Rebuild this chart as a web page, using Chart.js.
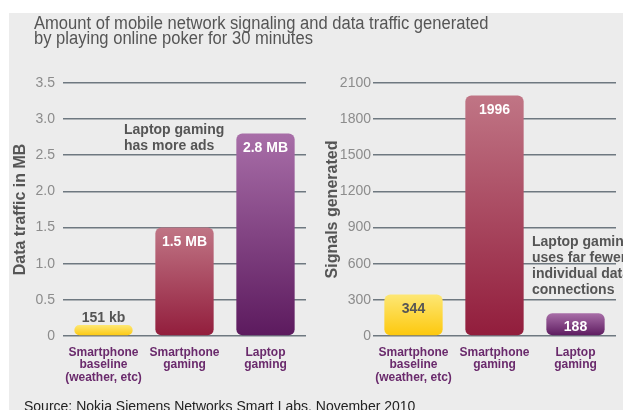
<!DOCTYPE html>
<html>
<head>
<meta charset="utf-8">
<script src="https://cdn.jsdelivr.net/npm/chart.js@4/dist/chart.umd.min.js"></script>
<style>
  body { margin: 0; background: #fff; font-family: 'Liberation Sans', Arial, sans-serif; }
  #wrap { position: relative; width: 623px; height: 410px; overflow: hidden; }
  #panel { position: absolute; left: 9px; top: 13px; width: 614px; height: 397px; background: #ececec; }
  canvas { position: absolute; left: 0; top: 0; }
  .title { position: absolute; left: 34px; top: 16px; font-size: 18px; line-height: 15px; color: #555; white-space: nowrap; transform: scaleX(0.92); transform-origin: left top; }
  .note { position: absolute; font-size: 14px; font-weight: bold; line-height: 16px; color: #555; white-space: nowrap; }
  .source { position: absolute; left: 24px; top: 398px; font-size: 14px; color: #222; white-space: nowrap; }
</style>
</head>
<body>
<div id="wrap">
  <div id="panel"></div>
  <canvas id="left" width="623" height="410"></canvas>
  <canvas id="right" width="623" height="410"></canvas>
  <div class="title">Amount of mobile network signaling and data traffic generated<br>by playing online poker for 30 minutes</div>
  <div class="note" style="left:124px; top:121px;">Laptop gaming<br>has more ads</div>
  <div class="note" style="left:532px; top:233px;">Laptop gaming<br>uses far fewer<br>individual data<br>connections</div>
  <div class="source">Source: Nokia Siemens Networks Smart Labs, November 2010</div>
</div>
<script>
const categories = [
  ['Smartphone', 'baseline', '(weather, etc)'],
  ['Smartphone', 'gaming'],
  ['Laptop', 'gaming']
];
const trafficMB = [0.151, 1.5, 2.8];
const trafficLabels = ['151 kb', '1.5 MB', '2.8 MB'];
const signals = [344, 1996, 188];
const signalLabels = ['344', '1996', '188'];

const FONT = "'Liberation Sans', Arial, sans-serif";
// top / bottom colours for each bar
const barColors = [
  ['#fde774', '#fdc80c'],
  ['#c07585', '#921d3c'],
  ['#a86ea8', '#5c1a5e']
];

function gradientFor(ctx) {
  const chart = ctx.chart;
  const y = chart.scales.y;
  if (!y || !chart.chartArea) return barColors[ctx.dataIndex][1];
  const v = ctx.dataset.data[ctx.dataIndex];
  const top = y.getPixelForValue(v);
  const bottom = y.getPixelForValue(0);
  const g = chart.ctx.createLinearGradient(0, top, 0, bottom);
  g.addColorStop(0, barColors[ctx.dataIndex][0]);
  g.addColorStop(1, barColors[ctx.dataIndex][1]);
  return g;
}

const barText = {
  id: 'barText',
  afterDatasetsDraw(chart, args, opts) {
    const ctx = chart.ctx;
    const meta = chart.getDatasetMeta(0);
    ctx.save();
    ctx.font = 'bold 14px ' + FONT;
    ctx.textAlign = 'center';
    ctx.textBaseline = 'alphabetic';
    meta.data.forEach((bar, i) => {
      const inside = opts.inside[i];
      ctx.fillStyle = opts.colors[i];
      const y = inside ? bar.y + 18 : bar.y - 3;
      ctx.fillText(opts.labels[i], bar.x, y);
    });
    ctx.restore();
  }
};

function makeChart(id, values, labels, cfg) {
  return new Chart(document.getElementById(id), {
    type: 'bar',
    data: {
      labels: categories,
      datasets: [{
        data: values,
        backgroundColor: gradientFor,
        borderRadius: 6,
        borderSkipped: false,
        barPercentage: 0.72,
        categoryPercentage: 1
      }]
    },
    options: {
      responsive: false,
      animation: false,
      devicePixelRatio: 1,
      layout: { padding: cfg.padding },
      plugins: {
        legend: { display: false },
        tooltip: { enabled: false },
        barText: { labels: labels, inside: cfg.inside, colors: cfg.textColors }
      },
      scales: {
        x: {
          grid: { display: false },
          border: { display: false },
          ticks: {
            color: '#6a2a6c',
            font: { family: FONT, size: 12, weight: 'bold', lineHeight: 1.05 },
            padding: 2,
            maxRotation: 0,
            autoSkip: false
          },
          afterFit(scale) { scale.height = 74; }
        },
        y: {
          min: 0,
          max: cfg.max,
          grid: { color: '#6e7880', lineWidth: 1.6, drawTicks: false },
          border: { display: false },
          ticks: {
            stepSize: cfg.step,
            color: '#8c8c8c',
            padding: cfg.tickPad,
            font: { family: FONT, size: 14 },
            callback: cfg.tickFmt
          },
          title: {
            display: true,
            text: cfg.title,
            color: '#555',
            padding: { top: 1 },
            font: { family: FONT, size: 16, weight: 'bold' }
          },
          afterFit(scale) { scale.width = cfg.axisWidth; }
        }
      }
    },
    plugins: [barText]
  });
}

makeChart('left', trafficMB, trafficLabels, {
  padding: { left: 10, right: 317, top: 83, bottom: 0 },
  axisWidth: 53,
  max: 3.5,
  step: 0.5,
  tickPad: 8,
  tickFmt: v => v === 0 ? '0' : v.toFixed(1),
  title: 'Data traffic in MB',
  inside: [false, true, true],
  textColors: ['#555', '#fff', '#fff']
});

makeChart('right', signals, signalLabels, {
  padding: { left: 322, right: 7, top: 83, bottom: 0 },
  axisWidth: 51,
  max: 2100,
  step: 300,
  tickPad: 2,
  tickFmt: v => String(v),
  title: 'Signals generated',
  inside: [true, true, true],
  textColors: ['#555', '#fff', '#fff']
});
</script>
</body>
</html>
